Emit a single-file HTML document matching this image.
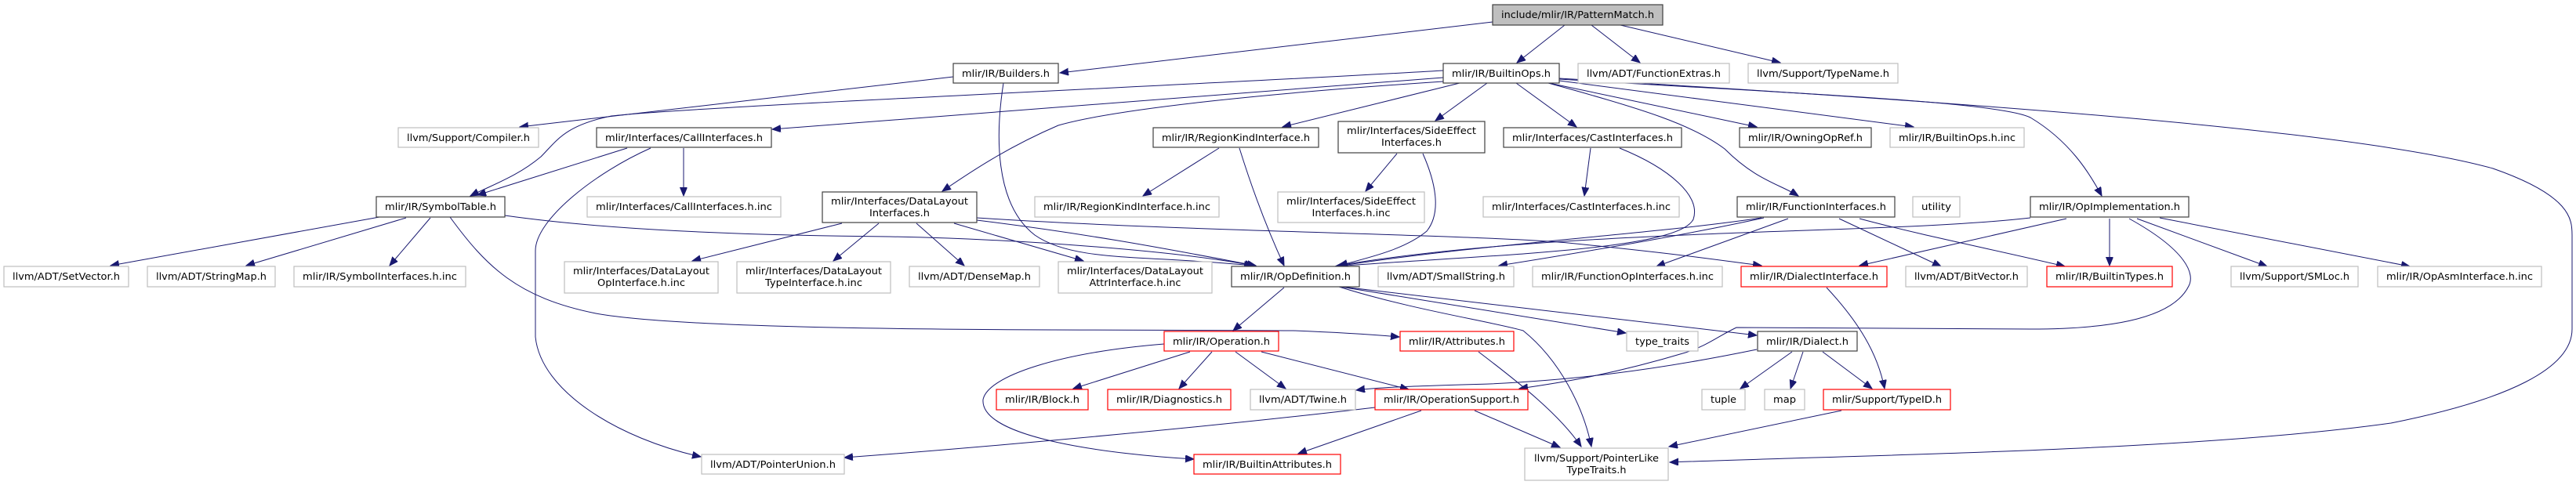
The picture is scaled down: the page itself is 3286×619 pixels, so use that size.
<!DOCTYPE html>
<html><head><meta charset="utf-8"><style>
html,body{margin:0;padding:0;background:#fff;}
svg{display:block;}
text{font-family:"DejaVu Sans","Liberation Sans",sans-serif;font-size:12px;fill:#000;text-anchor:middle;}
.b{fill:#fff;stroke:#404040;stroke-width:1.2;}
.g{fill:#fff;stroke:#bfbfbf;stroke-width:1.2;}
.r{fill:#fff;stroke:#ff0000;stroke-width:1.2;}
.e path{fill:none;stroke:#191970;stroke-width:1;marker-end:url(#a);}
</style></head><body>
<svg width="3286" height="619" viewBox="0 0 3286 619" xmlns="http://www.w3.org/2000/svg">
<defs><marker id="a" markerUnits="userSpaceOnUse" markerWidth="12" markerHeight="10" refX="11" refY="4.5" orient="auto"><path d="M0,0 L11,4.5 L0,9 z" fill="#191970" stroke="#191970"/></marker></defs>
<g class="e">
<path d="M1904,28 L1352,93"/>
<path d="M1996,32 L1935,80"/>
<path d="M2030,32 L2092,80"/>
<path d="M2067,32 L2271,80"/>
<path d="M1216,98 L663,162"/>
<path d="M1280,106 C1270,170 1268,260 1320,300 C1370,335 1460,325 1598,339"/>
<path d="M1841,90 C1500,110 900,135 780,148 C720,160 710,180 690,200 C660,225 630,235 600,250"/>
<path d="M1841,99 L985,165"/>
<path d="M1841,104 C1600,120 1420,140 1350,160 C1280,190 1230,225 1202,244"/>
<path d="M1862,106 L1636,162"/>
<path d="M1897,106 L1831,154"/>
<path d="M1934,106 L2011,162"/>
<path d="M1976,106 L2241,162"/>
<path d="M1989,103 L2441,162"/>
<path d="M1975,106 C2100,140 2160,160 2200,190 C2240,230 2270,235 2294,250"/>
<path d="M1989,101 C2300,120 2550,130 2590,150 C2640,180 2665,220 2681,250"/>
<path d="M1989,100 C2500,130 3000,165 3180,215 C3280,250 3281,280 3281,300 L3281,420 C3281,470 3200,510 3050,540 C2800,575 2400,580 2130,590"/>
<path d="M800,189 L609,249"/>
<path d="M872,189 L872,250"/>
<path d="M830,189 C760,220 683,280 683,320 L683,430 C690,500 790,560 894,583"/>
<path d="M484,277 L141,339"/>
<path d="M518,278 L314,339"/>
<path d="M549,278 L497,339"/>
<path d="M644,275 C750,290 900,300 1134,302 C1300,305 1500,320 1599,339"/>
<path d="M574,277 C620,340 660,380 760,400 C900,425 1400,420 1650,422 C1700,424 1750,427 1785,430"/>
<path d="M1074,285 L883,333"/>
<path d="M1121,285 L1063,333"/>
<path d="M1169,285 L1230,339"/>
<path d="M1217,285 L1382,333"/>
<path d="M1246,281 C1400,300 1500,320 1602,339"/>
<path d="M1246,278 C1500,295 1900,300 2000,310 C2150,325 2200,333 2247,339"/>
<path d="M1555,189 L1458,250"/>
<path d="M1581,189 C1600,250 1620,300 1638,339"/>
<path d="M1782,196 L1742,244"/>
<path d="M1815,196 C1830,230 1840,270 1820,295 C1790,320 1740,330 1708,339"/>
<path d="M2029,189 L2021,250"/>
<path d="M2066,189 C2130,215 2170,250 2160,280 C2140,320 1900,325 1703,340"/>
<path d="M2247,278 C2100,300 1900,310 1705,340"/>
<path d="M2250,278 C2150,300 2000,325 1912,339"/>
<path d="M2281,279 L2113,340"/>
<path d="M2346,279 L2476,340"/>
<path d="M2372,279 C2450,300 2550,320 2634,340"/>
<path d="M2590,278 C2400,300 2000,290 1706,339"/>
<path d="M2636,279 L2372,339"/>
<path d="M2691,279 L2691,339"/>
<path d="M2726,279 L2892,340"/>
<path d="M2755,278 L3074,340"/>
<path d="M2716,279 C2790,320 2800,350 2792,365 C2770,410 2680,420 2590,420 L2215,418 C2190,430 2180,440 2150,450 C2050,480 1980,490 1938,496"/>
<path d="M1638,367 L1573,422"/>
<path d="M1710,366 L2074,425"/>
<path d="M1712,366 L2241,428"/>
<path d="M1708,366 C1800,395 1900,410 1943,422 C1990,460 2020,520 2030,570"/>
<path d="M1886,449 C1940,490 1990,530 2017,570"/>
<path d="M2286,449 L2220,496"/>
<path d="M2300,449 L2284,496"/>
<path d="M2325,449 L2388,496"/>
<path d="M2241,446 C2100,475 2000,485 1900,490 C1800,493 1760,494 1730,498"/>
<path d="M2330,367 C2370,410 2395,450 2404,496"/>
<path d="M2349,524 L2129,570"/>
<path d="M1881,524 L1990,571"/>
<path d="M1813,524 L1656,579"/>
<path d="M1754,520 C1500,550 1200,575 1077,584"/>
<path d="M1518,449 L1369,496"/>
<path d="M1546,449 L1504,496"/>
<path d="M1576,449 L1640,496"/>
<path d="M1609,449 C1690,470 1750,485 1797,497"/>
<path d="M1485,439 C1350,450 1260,480 1254,510 C1250,560 1420,580 1523,586"/>
</g>

<!-- rank 0 -->
<rect x="1904" y="6" width="217" height="26" fill="#bfbfbf" stroke="#404040" stroke-width="1.2"/>
<text x="2012.5" y="23" textLength="195" lengthAdjust="spacingAndGlyphs">include/mlir/IR/PatternMatch.h</text>
<!-- rank 1 -->
<rect class="b" x="1216" y="81" width="134" height="25"/><text x="1283" y="98" textLength="112" lengthAdjust="spacingAndGlyphs">mlir/IR/Builders.h</text>
<rect class="b" x="1841" y="81" width="148" height="25"/><text x="1915" y="98" textLength="126" lengthAdjust="spacingAndGlyphs">mlir/IR/BuiltinOps.h</text>
<rect class="g" x="2013" y="81" width="193" height="25"/><text x="2109.5" y="98" textLength="171" lengthAdjust="spacingAndGlyphs">llvm/ADT/FunctionExtras.h</text>
<rect class="g" x="2230" y="81" width="191" height="25"/><text x="2325.5" y="98" textLength="169" lengthAdjust="spacingAndGlyphs">llvm/Support/TypeName.h</text>
<!-- rank 2 -->
<rect class="g" x="508" y="163" width="179" height="25"/><text x="597.5" y="180" textLength="157" lengthAdjust="spacingAndGlyphs">llvm/Support/Compiler.h</text>
<rect class="b" x="761" y="163" width="223" height="25"/><text x="872.5" y="180" textLength="201" lengthAdjust="spacingAndGlyphs">mlir/Interfaces/CallInterfaces.h</text>
<rect class="b" x="1471" y="163" width="211" height="25"/><text x="1576.5" y="180" textLength="189" lengthAdjust="spacingAndGlyphs">mlir/IR/RegionKindInterface.h</text>
<rect class="b" x="1707" y="155" width="187" height="40"/><text x="1800.5" y="171" textLength="165" lengthAdjust="spacingAndGlyphs">mlir/Interfaces/SideEffect</text><text x="1800.5" y="186" textLength="77" lengthAdjust="spacingAndGlyphs">Interfaces.h</text>
<rect class="b" x="1918" y="163" width="227" height="25"/><text x="2031.5" y="180" textLength="205" lengthAdjust="spacingAndGlyphs">mlir/Interfaces/CastInterfaces.h</text>
<rect class="b" x="2219" y="163" width="168" height="25"/><text x="2303" y="180" textLength="146" lengthAdjust="spacingAndGlyphs">mlir/IR/OwningOpRef.h</text>
<rect class="g" x="2411" y="163" width="171" height="25"/><text x="2496.5" y="180" textLength="149" lengthAdjust="spacingAndGlyphs">mlir/IR/BuiltinOps.h.inc</text>
<!-- rank 3 -->
<rect class="b" x="480" y="251" width="164" height="26"/><text x="562" y="268" textLength="142" lengthAdjust="spacingAndGlyphs">mlir/IR/SymbolTable.h</text>
<rect class="g" x="749" y="251" width="247" height="26"/><text x="872.5" y="268" textLength="225" lengthAdjust="spacingAndGlyphs">mlir/Interfaces/CallInterfaces.h.inc</text>
<rect class="b" x="1049" y="245" width="197" height="39"/><text x="1147.5" y="261" textLength="175" lengthAdjust="spacingAndGlyphs">mlir/Interfaces/DataLayout</text><text x="1147.5" y="276" textLength="77" lengthAdjust="spacingAndGlyphs">Interfaces.h</text>
<rect class="g" x="1320" y="251" width="235" height="26"/><text x="1437.5" y="268" textLength="213" lengthAdjust="spacingAndGlyphs">mlir/IR/RegionKindInterface.h.inc</text>
<rect class="g" x="1630" y="245" width="187" height="39"/><text x="1723.5" y="261" textLength="165" lengthAdjust="spacingAndGlyphs">mlir/Interfaces/SideEffect</text><text x="1723.5" y="276" textLength="100" lengthAdjust="spacingAndGlyphs">Interfaces.h.inc</text>
<rect class="g" x="1892" y="251" width="250" height="26"/><text x="2017" y="268" textLength="228" lengthAdjust="spacingAndGlyphs">mlir/Interfaces/CastInterfaces.h.inc</text>
<rect class="b" x="2216" y="251" width="201" height="26"/><text x="2316.5" y="268" textLength="179" lengthAdjust="spacingAndGlyphs">mlir/IR/FunctionInterfaces.h</text>
<rect class="g" x="2440" y="251" width="60" height="26"/><text x="2470" y="268" textLength="38" lengthAdjust="spacingAndGlyphs">utility</text>
<rect class="b" x="2590" y="251" width="202" height="26"/><text x="2691" y="268" textLength="180" lengthAdjust="spacingAndGlyphs">mlir/IR/OpImplementation.h</text>
<!-- rank 4 -->
<rect class="g" x="5" y="340" width="159" height="26"/><text x="84.5" y="357" textLength="137" lengthAdjust="spacingAndGlyphs">llvm/ADT/SetVector.h</text>
<rect class="g" x="188" y="340" width="163" height="26"/><text x="269.5" y="357" textLength="141" lengthAdjust="spacingAndGlyphs">llvm/ADT/StringMap.h</text>
<rect class="g" x="375" y="340" width="219" height="26"/><text x="484.5" y="357" textLength="197" lengthAdjust="spacingAndGlyphs">mlir/IR/SymbolInterfaces.h.inc</text>
<rect class="g" x="720" y="334" width="196" height="40"/><text x="818" y="350" textLength="174" lengthAdjust="spacingAndGlyphs">mlir/Interfaces/DataLayout</text><text x="818" y="365" textLength="112" lengthAdjust="spacingAndGlyphs">OpInterface.h.inc</text>
<rect class="g" x="940" y="334" width="196" height="40"/><text x="1038" y="350" textLength="174" lengthAdjust="spacingAndGlyphs">mlir/Interfaces/DataLayout</text><text x="1038" y="365" textLength="124" lengthAdjust="spacingAndGlyphs">TypeInterface.h.inc</text>
<rect class="g" x="1160" y="340" width="166" height="26"/><text x="1243" y="357" textLength="144" lengthAdjust="spacingAndGlyphs">llvm/ADT/DenseMap.h</text>
<rect class="g" x="1350" y="334" width="196" height="40"/><text x="1448" y="350" textLength="174" lengthAdjust="spacingAndGlyphs">mlir/Interfaces/DataLayout</text><text x="1448" y="365" textLength="117" lengthAdjust="spacingAndGlyphs">AttrInterface.h.inc</text>
<rect class="b" x="1571" y="340" width="163" height="26"/><text x="1652.5" y="357" textLength="141" lengthAdjust="spacingAndGlyphs">mlir/IR/OpDefinition.h</text>
<rect class="g" x="1758" y="340" width="173" height="26"/><text x="1844.5" y="357" textLength="151" lengthAdjust="spacingAndGlyphs">llvm/ADT/SmallString.h</text>
<rect class="g" x="1955" y="340" width="242" height="26"/><text x="2076" y="357" textLength="220" lengthAdjust="spacingAndGlyphs">mlir/IR/FunctionOpInterfaces.h.inc</text>
<rect class="r" x="2221" y="340" width="186" height="26"/><text x="2314" y="357" textLength="164" lengthAdjust="spacingAndGlyphs">mlir/IR/DialectInterface.h</text>
<rect class="g" x="2431" y="340" width="155" height="26"/><text x="2508.5" y="357" textLength="133" lengthAdjust="spacingAndGlyphs">llvm/ADT/BitVector.h</text>
<rect class="r" x="2611" y="340" width="160" height="26"/><text x="2691" y="357" textLength="138" lengthAdjust="spacingAndGlyphs">mlir/IR/BuiltinTypes.h</text>
<rect class="g" x="2846" y="340" width="162" height="26"/><text x="2927" y="357" textLength="140" lengthAdjust="spacingAndGlyphs">llvm/Support/SMLoc.h</text>
<rect class="g" x="3033" y="340" width="209" height="26"/><text x="3137.5" y="357" textLength="187" lengthAdjust="spacingAndGlyphs">mlir/IR/OpAsmInterface.h.inc</text>
<!-- rank 5 -->
<rect class="r" x="1485" y="423" width="146" height="25"/><text x="1558" y="440" textLength="124" lengthAdjust="spacingAndGlyphs">mlir/IR/Operation.h</text>
<rect class="r" x="1786" y="423" width="145" height="25"/><text x="1858.5" y="440" textLength="123" lengthAdjust="spacingAndGlyphs">mlir/IR/Attributes.h</text>
<rect class="g" x="2075" y="423" width="91" height="25"/><text x="2120.5" y="440" textLength="69" lengthAdjust="spacingAndGlyphs">type_traits</text>
<rect class="b" x="2242" y="423" width="127" height="25"/><text x="2305.5" y="440" textLength="105" lengthAdjust="spacingAndGlyphs">mlir/IR/Dialect.h</text>
<!-- rank 6 -->
<rect class="r" x="1271" y="497" width="117" height="26"/><text x="1329.5" y="514" textLength="95" lengthAdjust="spacingAndGlyphs">mlir/IR/Block.h</text>
<rect class="r" x="1413" y="497" width="157" height="26"/><text x="1491.5" y="514" textLength="135" lengthAdjust="spacingAndGlyphs">mlir/IR/Diagnostics.h</text>
<rect class="g" x="1595" y="497" width="134" height="26"/><text x="1662" y="514" textLength="112" lengthAdjust="spacingAndGlyphs">llvm/ADT/Twine.h</text>
<rect class="r" x="1754" y="497" width="195" height="26"/><text x="1851.5" y="514" textLength="173" lengthAdjust="spacingAndGlyphs">mlir/IR/OperationSupport.h</text>
<rect class="g" x="2171" y="497" width="55" height="26"/><text x="2198.5" y="514" textLength="33" lengthAdjust="spacingAndGlyphs">tuple</text>
<rect class="g" x="2251" y="497" width="51" height="26"/><text x="2276.5" y="514" textLength="29" lengthAdjust="spacingAndGlyphs">map</text>
<rect class="r" x="2326" y="497" width="162" height="26"/><text x="2407" y="514" textLength="140" lengthAdjust="spacingAndGlyphs">mlir/Support/TypeID.h</text>
<!-- rank 7 -->
<rect class="g" x="895" y="580" width="182" height="25"/><text x="986" y="597" textLength="160" lengthAdjust="spacingAndGlyphs">llvm/ADT/PointerUnion.h</text>
<rect class="r" x="1523" y="580" width="187" height="25"/><text x="1616.5" y="597" textLength="165" lengthAdjust="spacingAndGlyphs">mlir/IR/BuiltinAttributes.h</text>
<rect class="g" x="1945" y="572" width="183" height="41"/><text x="2036.5" y="589" textLength="159" lengthAdjust="spacingAndGlyphs">llvm/Support/PointerLike</text><text x="2036.5" y="604" textLength="76" lengthAdjust="spacingAndGlyphs">TypeTraits.h</text>
</svg>
</body></html>
